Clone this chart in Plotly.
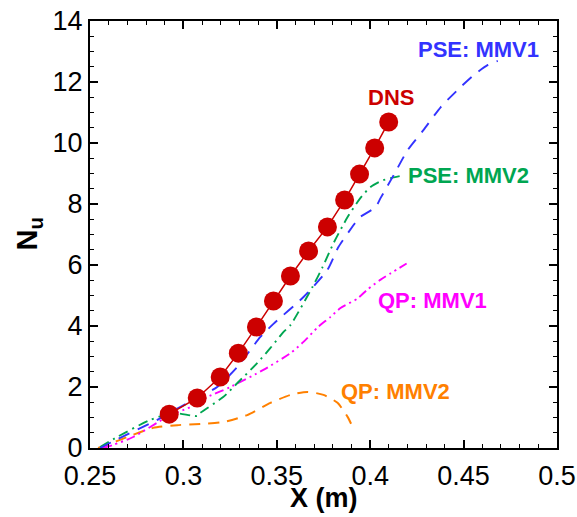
import plotly.graph_objects as go

# DNS data
dns_x = [0.2924, 0.3074, 0.3197, 0.3294, 0.3391, 0.3482, 0.3573, 0.3670, 0.3771, 0.3863, 0.3943, 0.4024, 0.4099]
dns_y = [1.11, 1.64, 2.33, 3.11, 3.97, 4.82, 5.64, 6.46, 7.25, 8.13, 8.98, 9.84, 10.69]

# PSE: MMV1
pse1_x = [0.2554, 0.265, 0.286, 0.2924, 0.3074, 0.3181, 0.3289, 0.3412, 0.3482, 0.3643, 0.3771, 0.383,
          0.3911, 0.3938, 0.4029, 0.4056, 0.4126, 0.4201, 0.4286, 0.4378, 0.4485, 0.4555, 0.463, 0.4683]
pse1_y = [0.0, 0.3, 0.92, 1.15, 1.64, 2.0, 2.66, 3.64, 4.07, 4.95, 5.84, 6.59,
          7.31, 7.54, 7.90, 8.20, 8.95, 9.77, 10.43, 11.18, 11.84, 12.23, 12.56, 12.69]

# PSE: MMV2
pse2_x = [0.2554, 0.2645, 0.2822, 0.2945, 0.3074, 0.309, 0.3213, 0.3289, 0.3396, 0.3466, 0.3535, 0.3573,
          0.3691, 0.3745, 0.3804, 0.3879, 0.3948, 0.4002, 0.4056, 0.4109, 0.4163]
pse2_y = [0.03, 0.36, 0.92, 1.15, 1.05, 1.15, 1.67, 2.13, 2.79, 3.28, 3.80, 4.03,
          5.28, 5.93, 6.72, 7.57, 8.20, 8.56, 8.75, 8.85, 8.92]

# QP: MMV1
qp1_x = [0.257, 0.2623, 0.2731, 0.2913, 0.3036, 0.3128, 0.3251, 0.3428, 0.3573, 0.3643, 0.3718, 0.3788,
         0.3841, 0.3932, 0.3986, 0.4056, 0.4195]
qp1_y = [0.0, 0.10, 0.36, 1.02, 1.34, 1.67, 2.00, 2.56, 3.11, 3.48, 3.95, 4.30,
         4.59, 4.90, 5.20, 5.52, 6.05]

# QP: MMV2
qp2_x = [0.2543, 0.2591, 0.2699, 0.2838, 0.2967, 0.309, 0.3213, 0.3342, 0.3466, 0.3573, 0.3664, 0.375,
         0.3825, 0.3879, 0.3906]
qp2_y = [0.0, 0.10, 0.36, 0.66, 0.75, 0.79, 0.85, 1.08, 1.48, 1.74, 1.84, 1.74,
         1.48, 1.02, 0.69]

labels = ["PSE: MMV1", "DNS", "PSE: MMV2", "QP: MMV1", "QP: MMV2"]
label_x = [0.4582, 0.4109, 0.4525, 0.4332, 0.4136]
label_y = [13.05, 11.48, 8.92, 4.82, 1.84]

BLUE = "#3333ff"
RED = "#cc0000"
GREEN = "#00a651"
MAGENTA = "#ff00ff"
ORANGE = "#ff8000"
colors = [BLUE, RED, GREEN, MAGENTA, ORANGE]

fig = go.Figure()
fig.add_trace(go.Scatter(x=qp2_x, y=qp2_y, mode="lines", line=dict(color=ORANGE, width=2, dash="11px,8px",
                                                                   shape="spline", smoothing=0.6)))
fig.add_trace(go.Scatter(x=qp1_x, y=qp1_y, mode="lines",
                         line=dict(color=MAGENTA, width=1.9, dash="9px,4px,2px,4px,2px,4px",
                                   shape="spline", smoothing=0.6)))
fig.add_trace(go.Scatter(x=pse2_x, y=pse2_y, mode="lines",
                         line=dict(color=GREEN, width=1.9, dash="10px,5px,2px,5px", shape="spline", smoothing=0.6)))
fig.add_trace(go.Scatter(x=pse1_x, y=pse1_y, mode="lines",
                         line=dict(color=BLUE, width=1.9, dash="12px,9px", shape="spline", smoothing=0.6)))
fig.add_trace(go.Scatter(x=dns_x, y=dns_y, mode="lines+markers", line=dict(color=RED, width=1.5),
                         marker=dict(color=RED, size=19)))

for t, x, y, c in zip(labels, label_x, label_y, colors):
    fig.add_annotation(x=x, y=y, text="<b>" + t + "</b>", showarrow=False, font=dict(color=c, size=22),
                       xanchor="center", yanchor="middle")

fig.add_annotation(xref="paper", yref="paper", x=0.5, y=(448 - 498) / 427, text="<b>X (m)</b>",
                   showarrow=False, font=dict(size=27, color="black"), xanchor="center", yanchor="middle")
fig.add_annotation(xref="paper", yref="paper", x=(28 - 90) / 467, y=0.5, text="<b>N<sub>u</sub></b>",
                   showarrow=False, font=dict(size=29, color="black"), xanchor="center", yanchor="middle",
                   textangle=-90)

axis_common = dict(showgrid=False, zeroline=False, showline=True, linecolor="black", linewidth=2,
                   mirror="ticks", ticks="inside", ticklen=8, tickwidth=2, tickcolor="black",
                   tickfont=dict(size=27, color="black"), automargin=False)

fig.update_xaxes(range=[0.25, 0.5], dtick=0.05, tick0=0.25, ticklabelstandoff=3,
                 minor=dict(ticks="inside", ticklen=4, tickwidth=1, dtick=0.01, tickcolor="black"),
                 **axis_common)
fig.update_yaxes(range=[0, 14], dtick=2, tick0=0,
                 minor=dict(ticks="inside", ticklen=4, tickwidth=1, dtick=0.5, tickcolor="black"),
                 **axis_common)

fig.update_layout(width=577, height=517, margin=dict(l=90, r=20, t=21, b=69, autoexpand=False),
                  plot_bgcolor="white", paper_bgcolor="white", showlegend=False,
                  font=dict(family="Liberation Sans, Arial, Helvetica, sans-serif", color="black"))

fig.write_html("out.html", config={"displayModeBar": False},
               post_script="document.body.style.margin='0px';document.body.style.overflow='hidden';")
